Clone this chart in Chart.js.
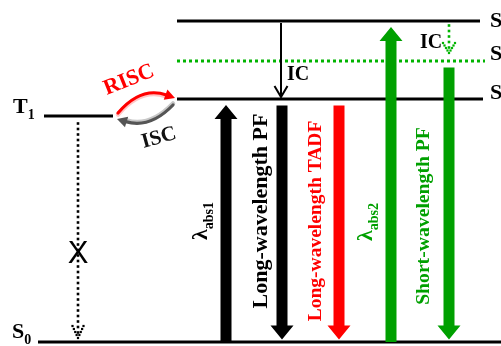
<!DOCTYPE html>
<html>
<head>
<meta charset="utf-8">
<script src="https://cdn.jsdelivr.net/npm/chart.js@4/dist/chart.umd.min.js"></script>
<style>
  html, body { margin: 0; padding: 0; background: #ffffff; }
  #wrap { width: 501px; height: 346px; position: relative; }
</style>
</head>
<body>
<div id="wrap"><canvas id="diagram"></canvas></div>
<script>
// Energy levels (energy axis runs 0..346, x axis 0..501)
const levelNames  = ['S0', 'T1', 'S1', "S1'", 'S2'];
const levelEnergy = [4, 230, 247, 285, 325];
const levelFrom   = [38, 44, 177, 177, 177];
const levelTo     = [501, 113, 483, 485, 480];

// Radiative transitions (absorption / emission bands)
const bandNames = ['abs1', 'Long-wavelength PF', 'Long-wavelength TADF', 'abs2', 'Short-wavelength PF'];
const bandFrom  = ['S0', 'S1', 'S1', 'S0', "S1'"];
const bandTo    = ['S1', 'S0', 'S0', 'S2', 'S0'];
const bandX     = [226, 282, 339, 391, 449];

// Non-radiative decay channels
const decayNames = ['IC', 'IC', 'T1 decay'];
const decayFrom  = ['S2', 'S2', 'T1'];
const decayTo    = ['S1', "S1'", 'S0'];
const decayX     = [281, 449, 78];

// ---- styling ----
const BLACK = '#000000', RED = '#ff0000', GREEN = '#00a000', GREEN_DOT = '#00b400';
const SERIF = '"Liberation Serif", "Times New Roman", serif';
const bandColor = [BLACK, BLACK, RED, GREEN, GREEN];
// label placement for each band: baseline x, centre y, font size, text colour
const bandLabelPos = [
  { bx: 207, cy: 221, size: 22, color: BLACK, greek: true, sub: 'abs1' },
  { bx: 267, cy: 211, size: 22, color: BLACK },
  { bx: 321, cy: 221, size: 19.5, color: RED },
  { bx: 372, cy: 222, size: 22, color: GREEN, greek: true, sub: 'abs2' },
  { bx: 429, cy: 216, size: 19.7, color: GREEN }
];

function idx(name) { return levelNames.indexOf(name); }

function blockArrow(ctx, x, yTail, yTip, color) {
  const dir = Math.sign(yTip - yTail);
  const shaft = 11, head = 23, headLen = 14;
  const yb = yTip - dir * headLen;
  ctx.beginPath();
  ctx.moveTo(x - shaft / 2, yTail);
  ctx.lineTo(x - shaft / 2, yb);
  ctx.lineTo(x - head / 2, yb);
  ctx.lineTo(x, yTip);
  ctx.lineTo(x + head / 2, yb);
  ctx.lineTo(x + shaft / 2, yb);
  ctx.lineTo(x + shaft / 2, yTail);
  ctx.closePath();
  ctx.fillStyle = color;
  ctx.fill();
}

// solid line arrow with an open chevron head
function lineArrow(ctx, x, y0, y1, color, width, hw, hl) {
  ctx.save();
  ctx.strokeStyle = color;
  ctx.lineWidth = width;
  ctx.beginPath();
  ctx.moveTo(x, y0);
  ctx.lineTo(x, y1 - 1);
  ctx.stroke();
  ctx.beginPath();
  ctx.moveTo(x - hw, y1 - hl);
  ctx.lineTo(x, y1);
  ctx.lineTo(x + hw, y1 - hl);
  ctx.stroke();
  ctx.restore();
}

// dotted line arrow: square dots along the shaft and along both chevron arms
function dottedArrow(ctx, x, y0, y1, color, dot, step, hw, hl) {
  ctx.save();
  ctx.fillStyle = color;
  const put = (px, py, d) => ctx.fillRect(px - d / 2, py - d / 2, d, d);
  for (let y = y1 - step; y >= y0; y -= step) put(x, y, dot);
  const n = 4;
  for (let k = 0; k <= n; k++) {
    const t = k / n;
    put(x - hw * t, y1 - hl * t, dot * 0.85);
    if (k > 0) put(x + hw * t, y1 - hl * t, dot * 0.85);
  }
  ctx.restore();
}

// text with a subscript; (x, y) is the baseline anchor in the rotated frame
function subText(ctx, x, y, angle, main, sub, size, subSize, color, centred) {
  ctx.save();
  ctx.translate(x, y);
  ctx.rotate(angle);
  ctx.fillStyle = color;
  ctx.textBaseline = 'alphabetic';
  ctx.textAlign = 'left';
  ctx.font = 'bold ' + size + 'px ' + SERIF;
  const w1 = ctx.measureText(main).width;
  ctx.font = 'bold ' + subSize + 'px ' + SERIF;
  const w2 = sub ? ctx.measureText(sub).width : 0;
  const x0 = centred ? -(w1 + w2) / 2 : 0;
  ctx.font = 'bold ' + size + 'px ' + SERIF;
  ctx.fillText(main, x0, 0);
  if (sub) {
    ctx.font = 'bold ' + subSize + 'px ' + SERIF;
    ctx.fillText(sub, x0 + w1, subSize * 0.42);
  }
  ctx.restore();
}

function curvedArrow(ctx, p0, c, p1, color, light, lightSide) {
  const dx = p1.x - c.x, dy = p1.y - c.y;
  const len = Math.hypot(dx, dy);
  const ux = dx / len, uy = dy / len;
  const hl = 10, hw = 5.5;
  const bx = p1.x - ux * hl, by = p1.y - uy * hl;
  ctx.save();
  ctx.lineCap = 'round';
  ctx.strokeStyle = light;
  ctx.lineWidth = 4.5;
  ctx.beginPath();
  ctx.moveTo(p0.x, p0.y + lightSide);
  ctx.quadraticCurveTo(c.x, c.y + lightSide, bx, by + lightSide);
  ctx.stroke();
  ctx.strokeStyle = color;
  ctx.lineWidth = 3.2;
  ctx.beginPath();
  ctx.moveTo(p0.x, p0.y);
  ctx.quadraticCurveTo(c.x, c.y, bx + ux, by + uy);
  ctx.stroke();
  ctx.fillStyle = color;
  ctx.beginPath();
  ctx.moveTo(p1.x, p1.y);
  ctx.lineTo(bx - uy * hw, by + ux * hw);
  ctx.lineTo(bx + uy * hw, by - ux * hw);
  ctx.closePath();
  ctx.fill();
  ctx.restore();
}

const diagramPlugin = {
  id: 'jablonski',
  afterDatasetsDraw(chart) {
    const ctx = chart.ctx;
    const sx = chart.scales.x, sy = chart.scales.y;
    const X = v => sx.getPixelForValue(v);
    const Y = v => sy.getPixelForValue(v);
    const levelY = n => Y(levelEnergy[idx(n)]);

    // thick radiative arrows with their labels
    bandNames.forEach((name, i) => {
      const yA = levelY(bandFrom[i]), yB = levelY(bandTo[i]);
      const x = X(bandX[i]);
      let tail, tip;
      if (yB < yA) { tail = yA; tip = yB + 6; }     // upward (absorption)
      else { tail = yA + 6.5; tip = yB - 2.5; }    // downward (emission)
      blockArrow(ctx, x, tail, tip, bandColor[i]);

      const lp = bandLabelPos[i];
      if (lp.greek) {
        subText(ctx, lp.bx, lp.cy, -Math.PI / 2, '\u03bb', lp.sub, lp.size, 14, lp.color, true);
      } else {
        subText(ctx, lp.bx, lp.cy, -Math.PI / 2, name, '', lp.size, 0, lp.color, true);
      }
    });

    // internal conversion S2 -> S1 (solid black)
    lineArrow(ctx, X(decayX[0]), levelY(decayFrom[0]) + 2, levelY(decayTo[0]) - 2, BLACK, 2, 6.5, 11);
    subText(ctx, 287, 80, 0, decayNames[0], '', 20, 0, BLACK, false);
    // internal conversion S2 -> S1' (dotted green)
    dottedArrow(ctx, X(decayX[1]), levelY(decayFrom[1]) + 3, levelY(decayTo[1]) - 8, GREEN_DOT, 2.6, 5.5, 6, 10);
    subText(ctx, 420, 48, 0, decayNames[1], '', 20, 0, BLACK, false);
    // forbidden T1 -> S0 decay (dotted black, crossed out)
    dottedArrow(ctx, X(decayX[2]), levelY(decayFrom[2]) + 6, levelY(decayTo[2]) - 4, BLACK, 2.6, 5.5, 5.5, 12);
    ctx.save();
    ctx.fillStyle = BLACK;
    ctx.font = '31px "Liberation Sans", Arial, sans-serif';
    ctx.textAlign = 'center';
    ctx.textBaseline = 'alphabetic';
    ctx.fillText('X', X(decayX[2]), 263);
    ctx.restore();

    // RISC / ISC arrows between T1 and S1
    const t1 = idx('T1'), s1 = idx('S1');
    const tx = X(levelTo[t1]), ty = Y(levelEnergy[t1]);
    const sX = X(levelFrom[s1]), sY = Y(levelEnergy[s1]);
    curvedArrow(ctx, { x: tx + 5, y: ty - 3 }, { x: tx + 28, y: ty - 30 }, { x: sX - 2, y: sY - 1 }, RED, '#ffc8c8', 1.5);
    curvedArrow(ctx, { x: sX - 4, y: sY + 6 }, { x: sX - 27, y: sY + 30 }, { x: tx + 4, y: ty + 3 }, '#555555', '#c8c8c8', -1.5);

    // level labels
    subText(ctx, 13, 113, 0, 'T', '1', 22, 14, BLACK, false);
    subText(ctx, 12, 338, 0, 'S', '0', 22, 14, BLACK, false);
    subText(ctx, 490, 27, 0, 'S', '2', 22, 14, BLACK, false);
    subText(ctx, 490, 60, 0, 'S', "1'", 22, 14, BLACK, false);
    subText(ctx, 490, 99, 0, 'S', '1', 22, 14, BLACK, false);
  }
};

// centre-anchored rotated labels for RISC / ISC
const labelPlugin = {
  id: 'iscLabels',
  afterDraw(chart) {
    const ctx = chart.ctx;
    [['RISC', 129, 80, -0.38, RED, 22], ['ISC', 159, 138, -0.27, '#111111', 21]].forEach(([t, x, y, a, c, f]) => {
      ctx.save();
      ctx.translate(x, y);
      ctx.rotate(a);
      ctx.font = 'bold ' + f + 'px ' + SERIF;
      ctx.fillStyle = c;
      ctx.textAlign = 'center';
      ctx.textBaseline = 'middle';
      ctx.fillText(t, 0, 0);
      ctx.restore();
    });
  }
};

new Chart(document.getElementById('diagram'), {
  type: 'scatter',
  data: {
    datasets: levelNames.map((n, i) => ({
      label: n,
      data: [{ x: levelFrom[i], y: levelEnergy[i] }, { x: levelTo[i], y: levelEnergy[i] }],
      showLine: true,
      borderColor: n === "S1'" ? GREEN_DOT : BLACK,
      borderWidth: 3,
      borderDash: n === "S1'" ? [3, 3] : [],
      borderCapStyle: 'butt',
      pointRadius: 0,
      pointHoverRadius: 0,
      clip: false
    }))
  },
  options: {
    responsive: true,
    maintainAspectRatio: false,
    animation: false,
    devicePixelRatio: 1,
    layout: { padding: 0 },
    events: [],
    plugins: { legend: { display: false }, tooltip: { enabled: false } },
    scales: {
      x: { type: 'linear', min: 0, max: 501, display: false },
      y: { type: 'linear', min: 0, max: 346, display: false }
    }
  },
  plugins: [diagramPlugin, labelPlugin]
});
</script>
</body>
</html>
